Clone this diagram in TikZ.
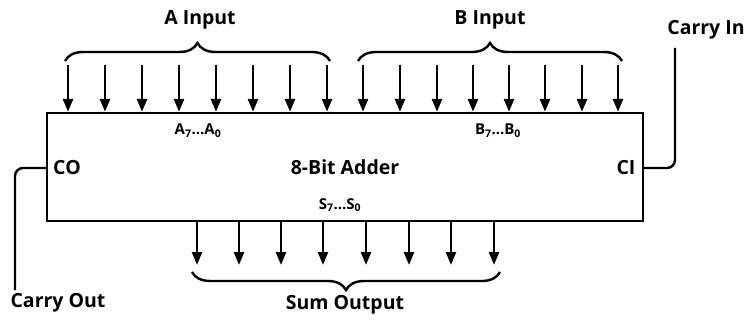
\documentclass[tikz,border=0pt]{standalone}
\usepackage{fontspec}
\setmainfont{Open Sans}
\usetikzlibrary{arrows.meta}
\usetikzlibrary{decorations.pathreplacing}

\begin{document}
\begin{tikzpicture}[
    x=1pt, y=-1pt,
    font=\fontsize{19.5}{23}\selectfont\bfseries,
    wire/.style={line width=2.4pt},
    arrow/.style={line width=2.6pt,-{Stealth[length=13pt,width=10pt,inset=0pt]}},
    bracket/.style={line width=2.4pt,decorate,decoration={brace,amplitude=18pt}},
    small/.style={font=\fontsize{15}{18}\selectfont\bfseries}
]
\useasboundingbox (0,0) rectangle (753,321);

\node[wire,draw,minimum width=596pt,minimum height=108pt] (adder) at (345,167) {8-Bit Adder};

\node (alab) at (200,20) {A Input};
\node (blab) at (490,20) {B Input};
\node (cinlab) at (706,30) {Carry In};
\node (coutlab) at (58,303) {Carry Out};
\node (sumlab) at (345,305) {Sum Output};
\node[small] (arange) at (198,131) {A\textsubscript{7}...A\textsubscript{0}};
\node[small] (brange) at (498,131) {B\textsubscript{7}...B\textsubscript{0}};
\node[small] (srange) at (340,205) {S\textsubscript{7}...S\textsubscript{0}};
\node (co) at (67,168) {CO};
\node (ci) at (626,168) {CI};

% inputs
\foreach \x [count=\i] in {68,105,142,179,216,253,290,327} {
    \coordinate (a\i) at (\x,65);
    \draw[arrow] (a\i) -- (a\i |- adder.north);
}
\foreach \x [count=\i] in {363,400,437,473,509,545,582,618} {
    \coordinate (b\i) at (\x,65);
    \draw[arrow] (b\i) -- (b\i |- adder.north);
}
% outputs
\foreach \x [count=\i] in {197,239,281,323,366,409,451,494} {
    \coordinate (s\i) at (\x,265);
    \draw[arrow] (s\i |- adder.south) -- (s\i);
}

\draw[bracket] (65,61) -- (330,61);
\draw[bracket] (358,61) -- (622,61);
\draw[bracket] (500,272) -- (192,272);

% carry lines
\coordinate (cintop) at (675,48);
\coordinate (coutend) at (15,290);
\draw[wire,rounded corners=8pt] (cintop) |- (adder.east |- ci.east);
\draw[wire,rounded corners=8pt] (adder.west |- co.west) -| (coutend);

\end{tikzpicture}
\end{document}
